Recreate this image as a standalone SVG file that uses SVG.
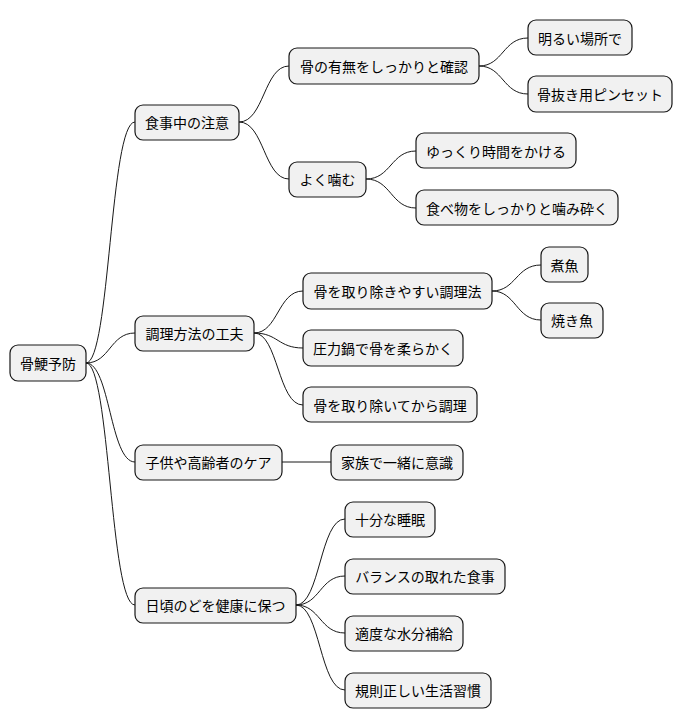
<svg xmlns="http://www.w3.org/2000/svg" width="684" height="724" viewBox="0 0 684 724">
<style>
.n rect{fill:#F1F1F1;stroke:#181818;stroke-width:1.2}
.n text{font-family:"Noto Sans CJK JP","Noto Sans CJK SC",sans-serif;font-size:14px;fill:#000;text-anchor:middle;dominant-baseline:central}
#c path{fill:none;stroke:#181818;stroke-width:1}
</style>
<rect width="684" height="724" fill="#fff"/>
<g id="c">
<path d="M86 363 C110 363 110 122 135 122"/>
<path d="M86 363 C110 363 110 333 135 333"/>
<path d="M86 363 C110 363 110 462 135 462"/>
<path d="M86 363 C110 363 110 605 135 605"/>
<path d="M239 122 C264 122 264 66 289 66"/>
<path d="M239 122 C264 122 264 179 289 179"/>
<path d="M479 66 C503 66 503 38 528 38"/>
<path d="M479 66 C503 66 503 94 528 94"/>
<path d="M366 179 C391 179 391 151 416 151"/>
<path d="M366 179 C391 179 391 208 416 208"/>
<path d="M254 333 C278 333 278 291 303 291"/>
<path d="M254 333 C278 333 278 348 303 348"/>
<path d="M254 333 C278 333 278 405 303 405"/>
<path d="M492 291 C516 291 516 265 541 265"/>
<path d="M492 291 C516 291 516 320 541 320"/>
<path d="M282 462 L331 462"/>
<path d="M296 605 C320 605 320 519 345 519"/>
<path d="M296 605 C320 605 320 576 345 576"/>
<path d="M296 605 C320 605 320 633 345 633"/>
<path d="M296 605 C320 605 320 690 345 690"/>
</g>
<g id="root" class="n"><rect x="10" y="345" width="76" height="36" rx="8"/><text x="48" y="363">骨鯁予防</text></g>
<g id="a" class="n"><rect x="135" y="105" width="104" height="35" rx="8"/><text x="187" y="122">食事中の注意</text></g>
<g id="b" class="n"><rect x="135" y="316" width="119" height="35" rx="8"/><text x="194.5" y="333">調理方法の工夫</text></g>
<g id="c1" class="n"><rect x="135" y="445" width="147" height="35" rx="8"/><text x="208.5" y="462">子供や高齢者のケア</text></g>
<g id="d" class="n"><rect x="135" y="588" width="161" height="35" rx="8"/><text x="215.5" y="605">日頃のどを健康に保つ</text></g>
<g id="a1" class="n"><rect x="289" y="48" width="190" height="36" rx="8"/><text x="384" y="66">骨の有無をしっかりと確認</text></g>
<g id="a2" class="n"><rect x="289" y="162" width="77" height="35" rx="8"/><text x="327.5" y="179">よく噛む</text></g>
<g id="b1" class="n"><rect x="303" y="273" width="189" height="36" rx="8"/><text x="397.5" y="291">骨を取り除きやすい調理法</text></g>
<g id="b2" class="n"><rect x="303" y="330" width="160" height="36" rx="8"/><text x="383" y="348">圧力鍋で骨を柔らかく</text></g>
<g id="b3" class="n"><rect x="303" y="387" width="174" height="35" rx="8"/><text x="390" y="405">骨を取り除いてから調理</text></g>
<g id="c11" class="n"><rect x="331" y="445" width="132" height="35" rx="8"/><text x="397" y="462">家族で一緒に意識</text></g>
<g id="d1" class="n"><rect x="345" y="502" width="90" height="35" rx="8"/><text x="390" y="519">十分な睡眠</text></g>
<g id="d2" class="n"><rect x="345" y="559" width="160" height="35" rx="8"/><text x="425" y="576">バランスの取れた食事</text></g>
<g id="d3" class="n"><rect x="345" y="616" width="118" height="35" rx="8"/><text x="404" y="633">適度な水分補給</text></g>
<g id="d4" class="n"><rect x="345" y="673" width="146" height="35" rx="8"/><text x="418" y="690">規則正しい生活習慣</text></g>
<g id="a11" class="n"><rect x="528" y="20" width="104" height="35" rx="8"/><text x="580" y="38">明るい場所で</text></g>
<g id="a12" class="n"><rect x="528" y="76" width="144" height="36" rx="8"/><text x="600" y="94">骨抜き用ピンセット</text></g>
<g id="a21" class="n"><rect x="416" y="133" width="160" height="35" rx="8"/><text x="496" y="151">ゆっくり時間をかける</text></g>
<g id="a22" class="n"><rect x="416" y="190" width="202" height="35" rx="8"/><text x="517" y="208">食べ物をしっかりと噛み砕く</text></g>
<g id="b11" class="n"><rect x="541" y="247" width="47" height="35" rx="8"/><text x="564.5" y="265">煮魚</text></g>
<g id="b12" class="n"><rect x="541" y="303" width="62" height="35" rx="8"/><text x="572" y="320">焼き魚</text></g>
</svg>
